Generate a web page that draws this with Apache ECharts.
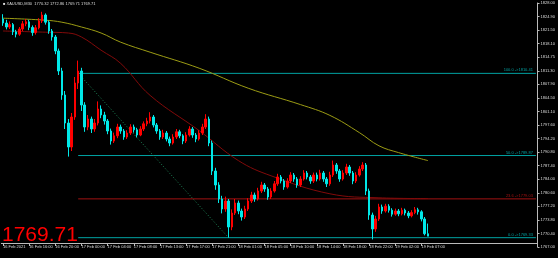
<!DOCTYPE html>
<html><head><meta charset="utf-8">
<script src="https://cdn.jsdelivr.net/npm/echarts@6.0.0/dist/echarts.min.js"></script>
<style>html,body{margin:0;padding:0;background:#000;overflow:hidden}#c{width:558px;height:258px}</style>
</head><body><div id="c"></div>
<script>
const symbolName = 'XAUUSD,M30';
const timeLabels = ['16 Feb 2021','16 Feb 16:00','16 Feb 20:00','17 Feb 00:00','17 Feb 04:00','17 Feb 08:00','17 Feb 13:00','17 Feb 17:00','17 Feb 21:00','18 Feb 01:00','18 Feb 05:00','18 Feb 10:00','18 Feb 14:00','18 Feb 18:00','18 Feb 22:00','19 Feb 02:00','19 Feb 07:00'];
const priceTicks = ['1828.00','1824.90','1821.50','1818.10','1814.75','1811.30','1807.90','1804.50','1801.10','1797.60','1794.20','1790.80','1787.40','1784.00','1780.60','1777.20','1773.80','1770.40','1767.00'];
// [open, close, low, high]
const candles = [
[1824.0,1823.0,1822.3,1825.2],[1823.0,1822.0,1821.4,1823.8],[1822.0,1822.6,1821.5,1823.4],[1822.6,1820.8,1820.0,1823.0],[1820.8,1820.2,1819.4,1821.3],
[1820.2,1821.5,1819.8,1822.0],[1821.5,1822.8,1821.0,1823.5],[1822.8,1823.3,1822.2,1824.0],[1823.3,1821.9,1821.2,1823.8],[1821.9,1820.6,1819.8,1822.4],
[1820.6,1821.8,1820.1,1822.5],[1821.8,1823.5,1821.4,1824.2],[1823.5,1825.0,1823.0,1825.8],[1825.0,1823.2,1822.6,1825.4],[1823.2,1821.0,1820.3,1823.6],
[1821.0,1819.5,1818.6,1821.5],[1819.5,1816.0,1815.2,1820.0],[1816.0,1811.0,1810.0,1816.6],[1811.0,1805.0,1803.8,1811.8],[1805.0,1798.0,1796.5,1806.0],
[1798.0,1792.0,1789.6,1799.0],[1792.0,1799.5,1791.0,1800.5],[1799.5,1808.0,1798.8,1809.5],[1808.0,1811.0,1806.5,1813.6],[1811.0,1802.5,1801.0,1811.8],
[1802.5,1797.0,1795.8,1803.2],[1797.0,1799.0,1796.2,1800.0],[1799.0,1796.5,1795.5,1799.6],[1796.5,1798.0,1795.8,1799.0],[1798.0,1801.5,1797.4,1803.4],
[1801.5,1800.0,1799.2,1802.4],[1800.0,1798.5,1797.6,1800.8],[1798.5,1796.0,1795.2,1799.0],[1796.0,1793.5,1792.6,1796.6],[1793.5,1794.8,1793.0,1795.6],
[1794.8,1797.0,1794.2,1797.8],[1797.0,1796.0,1795.3,1797.6],[1796.0,1794.5,1793.8,1796.5],[1794.5,1795.5,1794.0,1796.2],[1795.5,1797.0,1795.0,1797.7],
[1797.0,1796.3,1795.6,1797.6],[1796.3,1795.0,1794.4,1796.8],[1795.0,1796.5,1794.7,1797.2],[1796.5,1797.8,1796.0,1798.4],[1797.8,1798.5,1797.2,1799.3],
[1798.5,1799.5,1797.9,1800.7],[1799.5,1797.5,1796.9,1800.0],[1797.5,1796.0,1795.3,1798.0],[1796.0,1794.5,1793.8,1796.5],[1794.5,1795.5,1794.0,1796.3],
[1795.5,1794.0,1793.4,1796.0],[1794.0,1793.0,1792.2,1794.6],[1793.0,1794.5,1792.6,1795.2],[1794.5,1795.8,1794.0,1796.5],[1795.8,1794.8,1794.2,1796.3],
[1794.8,1793.5,1792.7,1795.2],[1793.5,1795.0,1793.0,1795.7],[1795.0,1796.5,1794.6,1797.2],[1796.5,1795.0,1794.3,1797.0],[1795.0,1794.0,1793.2,1795.5],
[1794.0,1795.5,1793.6,1796.2],[1795.5,1797.0,1795.0,1797.8],[1797.0,1799.0,1796.5,1800.2],[1799.0,1793.0,1792.2,1799.6],[1793.0,1786.0,1785.0,1793.6],
[1786.0,1782.5,1781.3,1786.8],[1782.5,1779.0,1778.0,1783.2],[1779.0,1776.5,1775.4,1779.8],[1776.5,1778.5,1775.8,1779.6],[1778.5,1772.0,1769.33,1779.0],
[1772.0,1775.5,1771.2,1776.4],[1775.5,1778.0,1775.0,1779.0],[1778.0,1776.0,1775.2,1778.6],[1776.0,1774.5,1773.6,1776.6],[1774.5,1776.5,1774.0,1777.3],
[1776.5,1778.5,1776.0,1779.2],[1778.5,1780.0,1778.0,1780.8],[1780.0,1779.0,1778.3,1780.6],[1779.0,1781.0,1778.6,1781.8],[1781.0,1782.5,1780.5,1783.3],
[1782.5,1781.5,1780.8,1783.0],[1781.5,1779.5,1778.8,1782.0],[1779.5,1781.0,1779.0,1781.7],[1781.0,1782.8,1780.6,1783.5],[1782.8,1784.5,1782.3,1785.3],
[1784.5,1783.5,1782.9,1785.0],[1783.5,1782.0,1781.3,1784.0],[1782.0,1783.5,1781.6,1784.2],[1783.5,1785.0,1783.0,1785.7],[1785.0,1784.0,1783.3,1785.5],
[1784.0,1782.5,1781.8,1784.5],[1782.5,1784.0,1782.0,1784.7],[1784.0,1785.5,1783.6,1786.2],[1785.5,1784.5,1783.9,1786.0],[1784.5,1783.5,1782.8,1785.0],
[1783.5,1785.0,1783.0,1785.6],[1785.0,1784.0,1783.4,1785.6],[1784.0,1785.5,1783.6,1786.3],[1785.5,1784.0,1783.3,1786.0],[1784.0,1782.8,1782.0,1784.5],
[1782.8,1785.0,1782.3,1785.8],[1785.0,1787.5,1784.5,1788.6],[1787.5,1786.0,1785.3,1788.0],[1786.0,1784.0,1783.3,1786.5],[1784.0,1785.5,1783.6,1786.2],
[1785.5,1787.0,1785.0,1787.8],[1787.0,1785.5,1784.8,1787.5],[1785.5,1783.5,1782.7,1786.0],[1783.5,1785.0,1783.0,1785.7],[1785.0,1786.5,1784.6,1787.2],
[1786.5,1787.5,1786.0,1788.2],[1787.5,1781.0,1780.0,1788.0],[1781.0,1775.0,1773.8,1781.6],[1775.0,1771.5,1768.9,1775.6],[1771.5,1774.0,1770.8,1774.8],
[1774.0,1777.0,1773.5,1777.8],[1777.0,1776.0,1775.3,1777.6],[1776.0,1777.2,1775.6,1777.8],[1777.2,1776.2,1775.6,1777.7],[1776.2,1775.2,1774.6,1776.7],
[1775.2,1776.0,1774.8,1776.6],[1776.0,1775.3,1774.7,1776.5],[1775.3,1776.2,1774.9,1776.8],[1776.2,1775.5,1774.9,1776.6],[1775.5,1774.8,1774.2,1776.0],
[1774.8,1775.6,1774.4,1776.2],[1775.6,1776.3,1775.2,1777.0],[1776.3,1775.8,1775.1,1776.8],[1775.8,1774.0,1773.4,1776.2],[1774.0,1770.32,1769.9,1774.5],
[1770.32,1769.71,1769.71,1772.86]
];
// moving averages read at bar indexes: [barIndex, value]
const maSlow = [[0,1824.2],[13,1823.7],[18,1823.2],[24,1822.0],[30,1820.5],[36,1818.2],[45,1815.7],[60,1811.7],[75,1806.7],[91,1802.6],[100,1799.9],[109,1795.6],[115,1792.3],[121,1790.6],[130,1788.6]];
const maFast = [[0,1821.0],[13,1820.7],[20,1820.5],[24,1819.5],[30,1816.2],[36,1812.9],[45,1804.9],[60,1796.1],[72,1788.6],[82,1784.8],[100,1780.3],[115,1779.3],[130,1779.1]];
const fibLevels = [100.0, 50.0, 23.6, 0.0];
const fibPrices = [1810.41, 1789.87, 1779.03, 1769.33];
const fibStartBar = 23, fibEndBar = 69;

const slotCount = 164, labelEvery = 8;
const cats = new Array(slotCount).fill('');
timeLabels.forEach((t, k) => { cats[k * labelEvery] = t; });
const last = candles[candles.length - 1];
const fibColors = ['#00a2a2', '#00a2a2', '#a31212', '#00a2a2'];
const tiny = {fontFamily: 'Liberation Sans', fontSize: 4};

const fibSeries = fibLevels.map((lvl, k) => ({
  type: 'line', yAxisIndex: 0, z: 1, symbol: 'none', silent: true,
  lineStyle: {color: fibColors[k], width: 1},
  itemStyle: {color: fibColors[k]},
  endLabel: {show: true, align: 'right', verticalAlign: 'bottom', distance: 0, offset: [-3, -1],
    color: fibColors[k], ...tiny, formatter: lvl.toFixed(1) + ' ->' + fibPrices[k].toFixed(2)},
  data: [[fibStartBar, fibPrices[k]], [slotCount - 1, fibPrices[k]]]
}));
fibSeries.push({
  type: 'line', yAxisIndex: 0, z: 1, symbol: 'none', silent: true,
  lineStyle: {color: '#1f8a5a', width: 1, type: [1, 2]},
  itemStyle: {color: '#1f8a5a'},
  data: [[fibStartBar, fibPrices[0]], [fibEndBar, fibPrices[fibPrices.length - 1]]]
});

const chart = echarts.init(document.getElementById('c'), null, {renderer: 'canvas'});
chart.setOption({
  animation: false,
  backgroundColor: '#000',
  title: {text: '\u25A0 ' + symbolName + '  ' + last[0].toFixed(2) + ' ' + last[3].toFixed(2) + ' ' + last[2].toFixed(2) + ' ' + last[1].toFixed(2),
    left: 3, top: 2, padding: 0, textStyle: {color: '#ddd', fontWeight: 'normal', ...tiny}},
  graphic: [{type: 'text', left: 2, top: 225, style: {text: last[1].toFixed(2), fill: '#ff0000', font: '21px "Liberation Sans"'}}],
  grid: {left: 0, right: 20, top: 3, bottom: 11, show: false},
  xAxis: {type: 'category', data: cats, boundaryGap: true, offset: -4,
    axisLine: {lineStyle: {color: '#bbb', width: 1}},
    axisTick: {show: true, alignWithLabel: true, length: 3, interval: (i) => cats[i] !== '', lineStyle: {color: '#bbb'}},
    axisLabel: {interval: (i) => cats[i] !== '', align: 'left', margin: 2, color: '#ddd', ...tiny},
    splitLine: {show: false}},
  yAxis: [
    {type: 'value', min: 1767, max: 1828, position: 'right', axisLabel: {show: false}, axisLine: {show: false}, axisTick: {show: false}, splitLine: {show: false}},
    {type: 'value', min: 0, max: priceTicks.length - 1, interval: 1, position: 'right',
      axisLine: {show: true, lineStyle: {color: '#bbb'}},
      axisTick: {show: true, length: 2, lineStyle: {color: '#bbb'}},
      axisLabel: {margin: 3, color: '#ddd', ...tiny, formatter: (v) => priceTicks[priceTicks.length - 1 - v]},
      splitLine: {show: false}}
  ],
  series: [
    ...fibSeries,
    {type: 'line', data: maSlow, yAxisIndex: 0, smooth: 0.4, symbol: 'none', lineStyle: {color: '#9c9c14', width: 1}, z: 2},
    {type: 'line', data: maFast, yAxisIndex: 0, smooth: 0.4, symbol: 'none', lineStyle: {color: '#820a0a', width: 1}, z: 2},
    {type: 'candlestick', data: candles, yAxisIndex: 0, barWidth: 2, z: 3,
      itemStyle: {color: '#ff0000', color0: '#00e8e8', borderColor: '#ff0000', borderColor0: '#00e8e8', borderWidth: 1}},
    {type: 'line', data: [], yAxisIndex: 0,
      markLine: {symbol: ['none', 'none'], silent: true,
        data: [{yAxis: last[1], lineStyle: {opacity: 0},
          label: {show: true, position: 'end', distance: 1, backgroundColor: '#fff', color: '#000', padding: [1, 1], ...tiny, formatter: last[1].toFixed(2)}}]}}
  ]
});
</script>
</body></html>
